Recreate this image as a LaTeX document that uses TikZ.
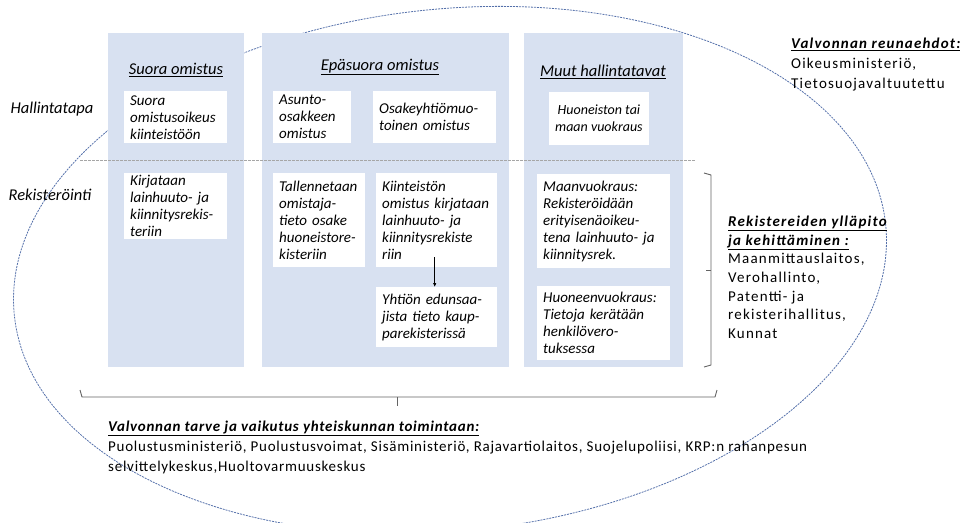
\documentclass[tikz,border=0pt]{standalone}
\usepackage{fontspec}
\setmainfont{Carlito}
\usetikzlibrary{arrows.meta}
\definecolor{colblue}{RGB}{216,225,241}
\definecolor{ellblue}{RGB}{84,112,170}
\definecolor{brkgray}{RGB}{100,100,100}

\tikzset{
  colbox/.style={fill=colblue,draw=none},
  wbox/.style={fill=white,draw=none,anchor=north west,inner xsep=6pt,inner ysep=2pt,
    align=left,font=\fontsize{15}{17}\selectfont\itshape},
  colhead/.style={font=\fontsize{16.5}{19}\selectfont\itshape},
  sidelabel/.style={font=\fontsize{16.5}{19}\selectfont\itshape},
  infotext/.style={anchor=north west,align=left,inner sep=0pt},
  ellline/.style={draw=ellblue,line width=0.8pt,dash pattern=on 2pt off 1pt},
  sepline/.style={draw=gray!70,line width=0.8pt,dash pattern=on 2.5pt off 1.5pt},
  brk/.style={draw=brkgray,line width=0.9pt,line join=round},
}

\begin{document}
\begin{tikzpicture}[x=1pt,y=-1pt]
\useasboundingbox (0,0) rectangle (960,522);
\draw[ellline,rotate around={6:(450,270)}] (450,270) ellipse [x radius=438,y radius=261]; % valvonta
\fill[colbox] (108,33) rectangle (244,367);
\fill[colbox] (262,33) rectangle (509,367);
\fill[colbox] (524,33) rectangle (683,367);
\draw[sepline] (80,160) -- (695,160);

\node[sidelabel] (hallinta) at (52,109) {Hallintatapa};
\node[sidelabel] (rekisterointi) at (50,195) {Rekisteröinti};

\node[colhead] (suora) at (176,70) {\underline{Suora omistus}};
\node[colhead] (epasuora) at (380,67) {\underline{Epäsuora omistus}};
\node[colhead] (muut) at (603,72) {\underline{Muut hallintatavat}};

% hallintatapa
\node[wbox,text width=91pt,minimum height=52pt] (suoraomist) at (124,91) {Suora\\omistusoikeus\\kiinteistöön};
\node[wbox,text width=66pt,minimum height=52pt] (asunto) at (273,91) {Asunto-\\osakkeen\\omistus};
\node[wbox,text width=111pt,minimum height=52pt] (osakeyhtio) at (373,91) {Osakeyhtiömuo-\\toinen omistus};
\node[wbox,minimum width=99pt,minimum height=53pt,align=center,font=\fontsize{14}{17}\selectfont\itshape] (vuokraus) at (549,92) {Huoneiston tai\\maan vuokraus};

% rekisterointi
\node[wbox,text width=91pt,minimum height=66pt] (kirjataan) at (124,173) {Kirjataan\\lainhuuto- ja\\kiinnitysrekis-\\teriin};
\node[wbox,text width=80pt,minimum height=94pt] (tallennetaan) at (273,173) {Tallennetaan\\omistaja-\\tieto osake\\huoneistore-\\kisteriin};
\node[wbox,text width=109pt,minimum height=94pt] (kiinteisto) at (376,173) {Kiinteistön\\omistus kirjataan\\lainhuuto- ja\\kiinnitysrekiste\\riin};
\node[wbox,text width=109pt,minimum height=60pt] (yhtio) at (376,287) {Yhtiön edunsaa-\\jista tieto kaup-\\parekisterissä};
\node[wbox,text width=121pt,minimum height=94pt] (maanvuokraus) at (537,174) {Maanvuokraus:\\Rekisteröidään\\erityisenäoikeu-\\tena lainhuuto- ja\\kiinnitysrek.};
\node[wbox,text width=121pt,minimum height=74pt] (huoneenvuokraus) at (537,286) {Huoneenvuokraus:\\Tietoja kerätään\\henkilövero-\\tuksessa};

\draw[-{Latex[length=4pt,width=3.5pt]},line width=0.8pt] ([xshift=-2pt,yshift=10pt]kiinteisto.south) -- ([xshift=-2pt]yhtio.north);

% sulkeet
\draw[brk] (704,173) -- (711,175) -- (711,365) -- (704,367);
\draw[brk] (711,270) -- (706,270);
\draw[brk] (80,390) -- (82,397) -- (715,397) -- (717,390);
\draw[brk] (397,397) -- (397,406);

\node[infotext,font=\fontsize{15}{20}\selectfont\addfontfeature{LetterSpace=8}] (reunaehdot) at (791,38)
  {\textbf{\textit{\underline{Valvonnan reunaehdot:}}}\\Oikeusministeriö,\\Tietosuojavaltuutettu};
\node[infotext,font=\fontsize{15}{18.6}\selectfont\addfontfeature{LetterSpace=8}] (yllapito) at (728,216)
  {\textbf{\textit{\underline{Rekistereiden ylläpito}}}\\\textbf{\textit{\underline{ja kehittäminen :}}}\\Maanmittauslaitos,\\Verohallinto,\\Patentti- ja\\rekisterihallitus,\\Kunnat};
\node[infotext,font=\fontsize{15}{20}\selectfont\addfontfeature{LetterSpace=5}] (tarve) at (108,421)
  {\textbf{\textit{\underline{Valvonnan tarve ja vaikutus yhteiskunnan toimintaan:}}}\\Puolustusministeriö, Puolustusvoimat, Sisäministeriö, Rajavartiolaitos, Suojelupoliisi, KRP:n rahanpesun\\selvittelykeskus,Huoltovarmuuskeskus};
\end{tikzpicture}
\end{document}
